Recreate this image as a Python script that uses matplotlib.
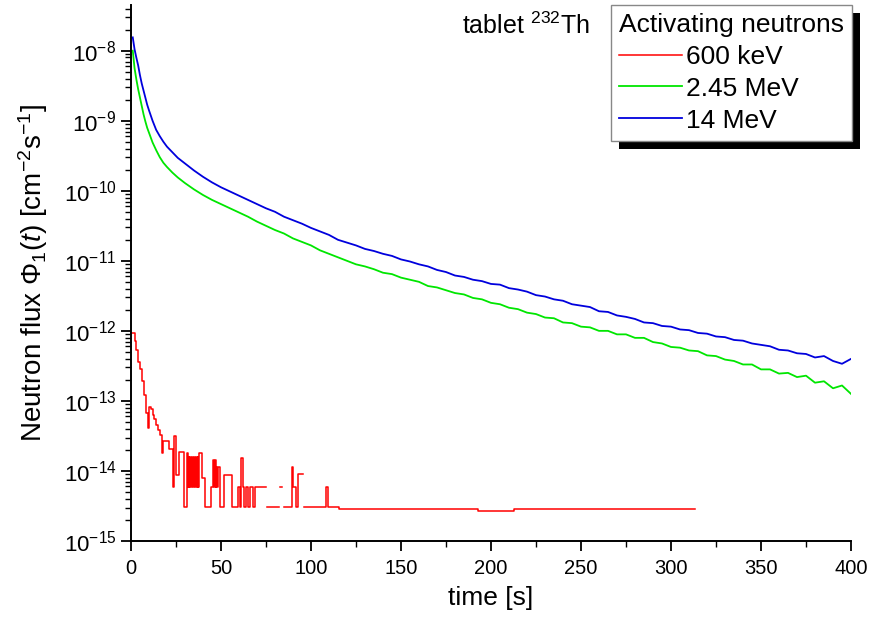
import numpy as np
import matplotlib
matplotlib.use("Agg")
import matplotlib.pyplot as plt
from matplotlib.patches import Rectangle
from matplotlib.transforms import IdentityTransform
from matplotlib.ticker import LogLocator, MultipleLocator

plt.rcParams['font.family'] = ['Liberation Sans', 'DejaVu Sans']
plt.rcParams['mathtext.fontset'] = 'custom'
plt.rcParams['mathtext.rm'] = 'Liberation Sans'
plt.rcParams['mathtext.it'] = 'Liberation Sans:italic'
plt.rcParams['mathtext.default'] = 'regular'

# data (flux stored as log10 values)
t_early = [1, 2, 3, 4, 5, 6, 7, 8, 9, 10, 12, 14, 16, 18, 20, 23, 26, 30, 35, 40, 45]
t_late = list(range(50, 405, 5))

blue_early = [-7.81, -7.98, -8.10, -8.21, -8.35, -8.47, -8.57, -8.67, -8.77, -8.85,
              -9.00, -9.13, -9.22, -9.30, -9.37, -9.45, -9.53, -9.61, -9.71, -9.80, -9.88]
blue_late = [-9.95, -10.01, -10.07, -10.13, -10.19, -10.25, -10.30, -10.37, -10.42, -10.47,
             -10.53, -10.58, -10.63, -10.70, -10.74, -10.78, -10.83, -10.86, -10.90, -10.93,
             -10.98, -11.01, -11.05, -11.08, -11.13, -11.16, -11.21, -11.23, -11.27, -11.29,
             -11.33, -11.34, -11.39, -11.41, -11.44, -11.49, -11.51, -11.55, -11.57, -11.62,
             -11.64, -11.66, -11.72, -11.73, -11.78, -11.80, -11.83, -11.88, -11.89, -11.93,
             -11.94, -11.98, -11.99, -12.03, -12.04, -12.08, -12.09, -12.13, -12.14, -12.18,
             -12.20, -12.22, -12.27, -12.28, -12.32, -12.33, -12.38, -12.36, -12.43, -12.47,
             -12.40]

green_early = [-8.00, -8.25, -8.41, -8.55, -8.67, -8.79, -8.91, -9.01, -9.10, -9.17,
               -9.31, -9.42, -9.52, -9.60, -9.66, -9.74, -9.81, -9.89, -9.98, -10.06, -10.13]
green_late = [-10.19, -10.25, -10.31, -10.37, -10.44, -10.50, -10.56, -10.61, -10.68, -10.73,
              -10.78, -10.85, -10.90, -10.95, -11.00, -11.05, -11.08, -11.12, -11.17, -11.19,
              -11.24, -11.27, -11.30, -11.36, -11.38, -11.42, -11.46, -11.48, -11.53, -11.55,
              -11.60, -11.62, -11.67, -11.69, -11.74, -11.76, -11.81, -11.82, -11.88, -11.89,
              -11.94, -11.95, -12.00, -12.00, -12.05, -12.05, -12.10, -12.10, -12.16, -12.18,
              -12.23, -12.24, -12.28, -12.29, -12.35, -12.36, -12.41, -12.43, -12.48, -12.48,
              -12.55, -12.55, -12.61, -12.60, -12.66, -12.64, -12.74, -12.72, -12.82, -12.78,
              -12.90]

red_t = [0.5, 2, 3, 4, 5, 6, 7, 8.5, 9.5, 10.3, 11, 12, 13, 14, 15, 16, 17, 17.8, 19, 21,
         23.3, 24, 25.2, 26.5, 29.5, 31, 31.5, 32, 32.5, 33, 33.5, 34, 34.5, 35, 35.5, 36,
         36.5, 37, 37.5, 38, 38.5, 39.5, 41, 44.6, 45.6, 46, 46.5, 47, 47.5, 48, 48.5, 49.3,
         51.5, 56.3, 59.5, 60.4, 61.3, 62.2, 63, 64, 65, 66, 67.8, 68.7, 75.2, 75.6, 82.2,
         82.6, 84, 85, 89.6, 90.2, 91.8, 92.7, 95.8, 96.2, 108.4, 109.3, 115.8, 193, 213,
         243, 247, 305, 313.6]
red_log = [-12.03, -12.15, -12.28, -12.45, -12.55, -12.72, -12.91, -13.17, -13.39, -13.09,
           -13.12, -13.20, -13.26, -13.34, -13.42, -13.49, -13.75, -13.57, -13.57, -13.68,
           -14.23, -13.50, -14.06, -13.73, -14.52, -13.75, -14.23, -13.80, -14.23, -13.80,
           -14.23, -13.80, -14.23, -13.80, -14.23, -13.80, -14.23, -13.80, -14.23, -13.75,
           -13.75, -14.10, -14.52, -14.23, -13.85, -14.23, -13.85, -14.23, -13.95, -14.23,
           -13.95, -14.52, -14.06, -14.52, -14.23, -14.52, -13.82, -14.23, -14.52, -14.23,
           -14.52, -14.23, -14.52, -14.23, np.nan, -14.52, np.nan, -14.23, np.nan, -14.52,
           -13.94, -14.23, -14.52, -14.05, np.nan, -14.52, -14.23, -14.52, -14.55, -14.57,
           -14.54, -14.55, -14.54, -14.55, -14.55]

labels = ['600 keV', '2.45 MeV', '14 MeV']
colors = ['#ff0000', '#00e600', '#0000dd']

fig = plt.figure(figsize=(8.69, 6.17), dpi=100)
ax = fig.add_axes([0.1507, 0.1232, 0.8286, 0.8688])

ax.plot(red_t, 10 ** np.array(red_log), color=colors[0], lw=1.1,
        drawstyle='steps-post', label=labels[0])
ax.plot(t_early + t_late, 10 ** np.array(green_early + green_late), color=colors[1], lw=1.3,
        label=labels[1])
ax.plot(t_early + t_late, 10 ** np.array(blue_early + blue_late), color=colors[2], lw=1.3,
        label=labels[2])

ax.set_yscale('log')
ax.set_xlim(0, 400)
ax.set_ylim(1e-15, 4.5e-8)
ax.xaxis.set_major_locator(MultipleLocator(50))
ax.xaxis.set_minor_locator(MultipleLocator(25))
ax.yaxis.set_major_locator(LogLocator(base=10, numticks=20))
ax.yaxis.set_minor_locator(LogLocator(base=10, subs=np.arange(2, 10), numticks=20))

for s in ['top', 'right']:
    ax.spines[s].set_visible(False)
for s in ['left', 'bottom']:
    ax.spines[s].set_linewidth(1.4)
ax.tick_params(which='major', length=7, width=1.3, labelsize=16, direction='out')
ax.tick_params(which='minor', length=4, width=1.0, direction='out')
ax.tick_params(axis='x', pad=6, labelsize=14.5)

ax.set_xlabel('time [s]', fontsize=19, labelpad=6)
ax.set_ylabel(r'Neutron flux $\Phi_1$($\mathit{t}$) [cm$^{-2}$s$^{-1}$]', fontsize=20, labelpad=10)

ax.text(0.548, 0.985, r'tablet $^{232}$Th', transform=ax.transAxes, fontsize=18,
        ha='center', va='top')

leg = ax.legend(title='Activating neutrons', loc='upper left', bbox_to_anchor=(0.667, 1.0),
                fontsize=19, title_fontsize=19, frameon=True, fancybox=False,
                handlelength=2.4, handletextpad=0.15, borderpad=0.3, labelspacing=0.3,
                borderaxespad=0.0)
leg.get_frame().set_edgecolor('#888888')
leg.get_frame().set_linewidth(1.0)
leg.get_frame().set_alpha(1)
leg._legend_box.align = 'left'

# black drop shadow behind the legend box
fig.canvas.draw()
bb = leg.get_window_extent()
shadow = Rectangle((bb.x0 + 8, bb.y0 - 8), bb.width, bb.height, transform=IdentityTransform(),
                   facecolor='black', edgecolor='none', zorder=4.5)
ax.add_artist(shadow)
shadow.set_clip_on(False)

fig.savefig('out.png', dpi=100)
